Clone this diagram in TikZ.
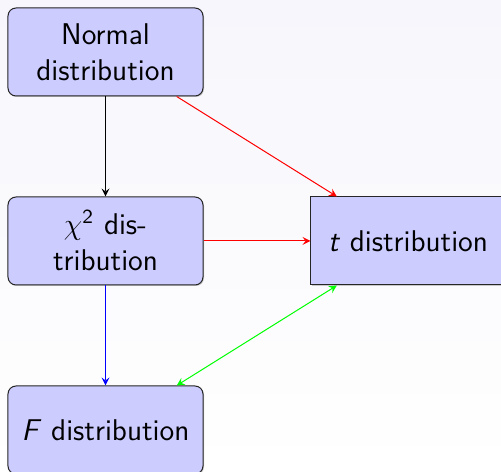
\documentclass[tikz,border=0pt]{standalone}
\usepackage{tikz}
\usepackage{amsmath}
\usepackage{xcolor}
\usetikzlibrary{
  positioning, arrows, calc,
  shapes.misc, shadows
}
\definecolor{pagetop}{RGB}{246,246,252}

\begin{document}
\begin{tikzpicture}
    [x=0.4pt, y=-0.4pt,
     font=\sffamily\fontsize{12}{14.4}\selectfont, >=stealth,
     dist/.style={rectangle,rounded corners=3.2pt,draw=black!85,fill=blue!20,
       minimum width=78pt,minimum height=35.2pt,align=center,
       drop shadow={shadow xshift=0.4pt,shadow yshift=-0.4pt,opacity=0.4}},
     tdist/.style={dist,rounded corners=0pt,minimum width=77.6pt}]
    \shade[top color=pagetop,bottom color=white] (0,0) rectangle (501,472);
    \useasboundingbox (0,0) rectangle (501,472);

    \node (norm) at (105.5,52) [dist] {Normal\\distribution};
    \node (chisq) at (105.5,241) [dist] {$\chi^{\mathsf{2}}$ dis-\\tribution};
    \node (tdst) at (408,241) [tdist] {{\itshape t\/} distribution};
    \node (fdst) at (105.5,430) [dist] {{\itshape F\/} distribution};

    \draw[->] (norm) -- (chisq);
    \draw[->,red] (norm) -- (tdst);
    \draw[->,red] (chisq) -- (tdst);
    \draw[->,blue] (chisq) -- (fdst);
    \draw[<->,green] (fdst) -- (tdst);
    \end{tikzpicture}
\end{document}
